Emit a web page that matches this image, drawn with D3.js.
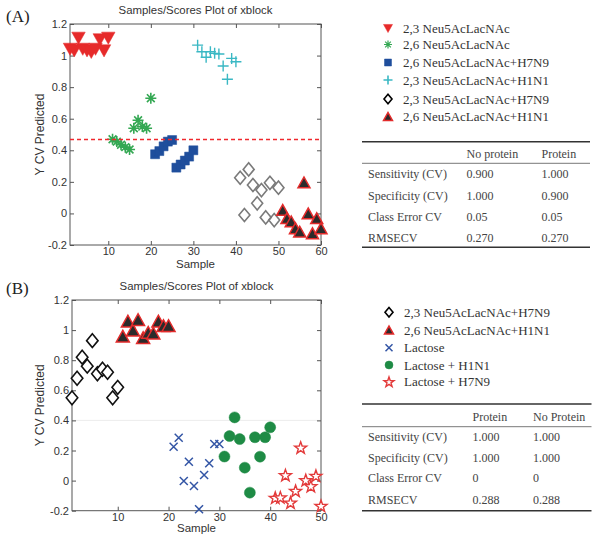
<!DOCTYPE html>
<html>
<head>
<meta charset="utf-8">
<script src="https://cdn.jsdelivr.net/npm/d3@7"></script>
<style>
  html, body { margin: 0; padding: 0; background: #fff; }
  svg { display: block; }
</style>
</head>
<body>
<svg id="fig" width="601" height="541"></svg>
<script>
// ---------------- DATA ----------------
// Panel A
const aSamples23 = [1, 2, 3, 4, 5, 6, 7, 8, 9, 10];
const aValues23 = [1.04, 1.03, 1.11, 1.04, 1.03, 1.02, 1.04, 1.10, 1.03, 1.11];
const aSamples26 = [11, 12, 13, 14, 15, 16, 17, 18, 19, 20];
const aValues26 = [0.47, 0.455, 0.435, 0.42, 0.405, 0.54, 0.59, 0.55, 0.54, 0.73];
const aSamples26H7 = [21, 22, 23, 24, 25, 26, 27, 28, 29, 30];
const aValues26H7 = [0.375, 0.395, 0.425, 0.455, 0.465, 0.29, 0.31, 0.335, 0.36, 0.40];
const aSamples23H1 = [31, 32, 33, 34, 35, 36, 37, 38, 39, 40];
const aValues23H1 = [1.066, 1.024, 0.989, 1.024, 1.014, 1.01, 0.934, 0.85, 0.982, 0.961];
const aSamples23H7 = [41, 42, 43, 44, 45, 46, 47, 48, 49, 50];
const aValues23H7 = [0.226, -0.01, 0.279, 0.18, 0.064, 0.148, -0.025, 0.194, -0.042, 0.163];
const aSamples26H1 = [51, 52, 53, 54, 55, 56, 57, 58, 59, 60];
const aValues26H1 = [0.022, -0.03, -0.05, -0.094, -0.115, 0.197, 0.0, -0.126, -0.03, -0.094];
const aThreshold = 0.469;

// Panel B
const bSamples23H7 = [1, 2, 3, 4, 5, 6, 7, 8, 9, 10];
const bValues23H7 = [0.55, 0.68, 0.82, 0.76, 0.93, 0.71, 0.74, 0.72, 0.55, 0.62];
const bSamples26H1 = [11, 12, 13, 14, 15, 16, 17, 18, 19, 20];
const bValues26H1 = [0.96, 1.06, 1.0, 1.07, 0.95, 0.985, 0.98, 1.06, 1.03, 1.03];
const bSamplesLac = [21, 22, 23, 24, 25, 26, 27, 28, 29, 30];
const bValuesLac = [0.225, 0.285, -0.003, 0.125, -0.036, -0.19, 0.037, 0.115, 0.243, 0.243];
const bSamplesLacH1 = [31, 32, 33, 34, 35, 36, 37, 38, 39, 40];
const bValuesLacH1 = [0.16, 0.296, 0.42, 0.276, 0.086, -0.08, 0.288, 0.159, 0.288, 0.354];
const bSamplesLacH7 = [41, 42, 43, 44, 45, 46, 47, 48, 49, 50];
const bValuesLacH7 = [-0.113, -0.111, 0.037, -0.145, -0.067, 0.22, 0.004, -0.036, 0.033, -0.167];

// Tick labels
const yTicks = [-0.2, 0, 0.2, 0.4, 0.6, 0.8, 1, 1.2];
const aXTicks = [10, 20, 30, 40, 50, 60];
const bXTicks = [10, 20, 30, 40, 50];
const aXDomain = [1, 60];
const bXDomain = [1, 50];
const yDomain = [-0.2, 1.2];

// Texts
const plotTitle = "Samples/Scores Plot of xblock";
const yLabel = "Y CV Predicted";
const xLabel = "Sample";
const aLegendLabels = ["2,3 Neu5AcLacNAc", "2,6 Neu5AcLacNAc", "2,6 Neu5AcLacNAc+H7N9",
  "2,3 Neu5AcLacNAc+H1N1", "2,3 Neu5AcLacNAc+H7N9", "2,6 Neu5AcLacNAc+H1N1"];
const bLegendLabels = ["2,3 Neu5AcLacNAc+H7N9", "2,6 Neu5AcLacNAc+H1N1", "Lactose",
  "Lactose + H1N1", "Lactose + H7N9"];
const aTableHeader = ["", "No protein", "Protein"];
const aTableRows = [
  ["Sensitivity (CV)", "0.900", "1.000"],
  ["Specificity (CV)", "1.000", "0.900"],
  ["Class Error CV", "0.05", "0.05"],
  ["RMSECV", "0.270", "0.270"]];
const bTableHeader = ["", "Protein", "No Protein"];
const bTableRows = [
  ["Sensitivity (CV)", "1.000", "1.000"],
  ["Specificity (CV)", "1.000", "1.000"],
  ["Class Error CV", "0", "0"],
  ["RMSECV", "0.288", "0.288"]];

// ---------------- STYLES ----------------
const SANS = "'Liberation Sans', Arial, Helvetica, sans-serif";
const SERIF = "'Liberation Serif', 'Times New Roman', serif";
const AXC = "#555";
const TXT = "#333";

const styles = {
  triDownRed: { shape: "triDown", size: 13.5, fill: "#e62a2a", stroke: "#e62a2a", sw: 0.5 },
  asteriskGreen: { shape: "asterisk", size: 11, fill: "none", stroke: "#34a853", sw: 1.6 },
  squareBlue: { shape: "square", size: 9, fill: "#1f4e9c", stroke: "#1f4e9c", sw: 0.5 },
  plusCyan: { shape: "plus", size: 11, fill: "none", stroke: "#3ab8c4", sw: 1.4 },
  diamondGray: { shape: "diamond", size: 11, fill: "none", stroke: "#7a7a7a", sw: 1.6 },
  triUpBlackRed: { shape: "triUp", size: 12, fill: "#2b2b2b", stroke: "#e32b2b", sw: 1.5 },
  diamondBlack: { shape: "diamond", size: 11.5, fill: "#fff", stroke: "#111", sw: 1.6 },
  triUpBlackRedB: { shape: "triUp", size: 13, fill: "#2b2b2b", stroke: "#e32b2b", sw: 1.5 },
  xBlue: { shape: "x", size: 8, fill: "none", stroke: "#3355a5", sw: 1.5 },
  circleGreen: { shape: "circle", size: 11, fill: "#1e8b45", stroke: "#1e8b45", sw: 0.5 },
  starRed: { shape: "star", size: 12, fill: "#fff", stroke: "#e33a3a", sw: 1.4 }
};

function markerPath(shape, s) {
  const h = s / 2;
  switch (shape) {
    case "triDown": { const hh = s * 0.45; return `M${-h},${-hh}L${h},${-hh}L0,${hh}Z`; }
    case "triUp": { const hh = s * 0.45; return `M${-h},${hh}L${h},${hh}L0,${-hh}Z`; }
    case "square": return `M${-h},${-h}L${h},${-h}L${h},${h}L${-h},${h}Z`;
    case "diamond": { const hv = s * 0.6; return `M0,${-hv}L${h},0L0,${hv}L${-h},0Z`; }
    case "plus": return `M${-h},0L${h},0M0,${-h}L0,${h}`;
    case "x": return `M${-h},${-h}L${h},${h}M${-h},${h}L${h},${-h}`;
    case "asterisk": {
      const d = h * 0.7071;
      return `M${-h},0L${h},0M0,${-h}L0,${h}M${-d},${-d}L${d},${d}M${-d},${d}L${d},${-d}`;
    }
    case "circle": return `M${h},0A${h},${h} 0 1,1 ${-h},0A${h},${h} 0 1,1 ${h},0Z`;
    case "star": {
      const R = h * 1.05, r = R * 0.4;
      const pts = [];
      for (let i = 0; i < 10; i++) {
        const ang = -Math.PI / 2 + i * Math.PI / 5;
        const rad = i % 2 === 0 ? R : r;
        pts.push([rad * Math.cos(ang), rad * Math.sin(ang) + R * 0.1]);
      }
      return "M" + pts.map(p => p[0].toFixed(2) + "," + p[1].toFixed(2)).join("L") + "Z";
    }
  }
  return "";
}

const svg = d3.select("#fig");

function drawMarkers(g, xs, ys, x, y, st) {
  const data = xs.map((v, i) => [v, ys[i]]);
  g.selectAll(null).data(data).enter().append("path")
    .attr("transform", d => `translate(${x(d[0])},${y(d[1])})`)
    .attr("d", markerPath(st.shape, st.size))
    .attr("fill", st.fill)
    .attr("stroke", st.stroke)
    .attr("stroke-width", st.sw)
    .attr("stroke-linejoin", "miter");
}

function drawPanel(opts) {
  const { left, right, top, bottom, xDomain, xTicks, letter, letterY, titleY, xLabelY } = opts;
  const x = d3.scaleLinear().domain(xDomain).range([left, right]);
  const y = d3.scaleLinear().domain(yDomain).range([bottom, top]);
  const g = svg.append("g");

  if (opts.grid) {
    g.append("line").attr("x1", left).attr("x2", right)
      .attr("y1", y(0.4)).attr("y2", y(0.4))
      .attr("stroke", "#ececec").attr("stroke-width", 1);
  }

  const fmt = d => String(d);
  const ax = (axis) => axis.tickSizeOuter(0);
  const gb = g.append("g").attr("transform", `translate(0,${bottom})`)
    .call(ax(d3.axisBottom(x).tickValues(xTicks).tickSizeInner(-4).tickPadding(2).tickFormat(fmt)));
  const gt = g.append("g").attr("transform", `translate(0,${top})`)
    .call(ax(d3.axisTop(x).tickValues(xTicks).tickSizeInner(-4).tickFormat("")));
  const gl = g.append("g").attr("transform", `translate(${left},0)`)
    .call(ax(d3.axisLeft(y).tickValues(yTicks).tickSizeInner(-4).tickPadding(3).tickFormat(fmt)));
  const gr = g.append("g").attr("transform", `translate(${right},0)`)
    .call(ax(d3.axisRight(y).tickValues(yTicks).tickSizeInner(-4).tickFormat("")));
  [gb, gt, gl, gr].forEach(a => {
    a.select(".domain").remove();
    a.selectAll("line").attr("stroke", AXC);
    a.selectAll("text").attr("fill", TXT).style("font-family", SANS).style("font-size", "11px");
  });

  g.append("rect").attr("x", left).attr("y", top)
    .attr("width", right - left).attr("height", bottom - top)
    .attr("fill", "none").attr("stroke", AXC).attr("stroke-width", 1);

  const cx = (left + right) / 2;
  g.append("text").attr("x", cx).attr("y", titleY).attr("text-anchor", "middle")
    .attr("fill", TXT).style("font-family", SANS).style("font-size", "11.4px").text(plotTitle);
  g.append("text").attr("x", cx).attr("y", xLabelY).attr("text-anchor", "middle")
    .attr("fill", TXT).style("font-family", SANS).style("font-size", "11.5px").text(xLabel);
  g.append("text").attr("transform", `translate(44,${(top + bottom) / 2}) rotate(-90)`)
    .attr("text-anchor", "middle")
    .attr("fill", TXT).style("font-family", SANS).style("font-size", "12px").text(yLabel);
  g.append("text").attr("x", 6).attr("y", letterY)
    .attr("fill", "#222").style("font-family", SERIF).style("font-size", "17px").text(letter);

  return { g, x, y };
}

function drawLegend(x0, rows, labels, stylesList) {
  const g = svg.append("g");
  labels.forEach((lab, i) => {
    const st = stylesList[i];
    g.append("path").attr("transform", `translate(${x0},${rows[i]})`)
      .attr("d", markerPath(st.shape, st.legendSize || 8))
      .attr("fill", st.fill).attr("stroke", st.stroke).attr("stroke-width", st.sw);
    g.append("text").attr("x", x0 + 15).attr("y", rows[i] + 4.5)
      .attr("fill", TXT).style("font-family", SERIF).style("font-size", "13px").text(lab);
  });
}

function drawTable(o) {
  const g = svg.append("g");
  const { x1, x2, topRule, headRule, bottomRule, headY, rowYs, cols, header, rows } = o;
  g.append("line").attr("x1", x1).attr("x2", x2).attr("y1", topRule).attr("y2", topRule)
    .attr("stroke", "#333").attr("stroke-width", 1.4);
  g.append("line").attr("x1", x1).attr("x2", x2).attr("y1", headRule).attr("y2", headRule)
    .attr("stroke", "#555").attr("stroke-width", 0.8);
  g.append("line").attr("x1", x1).attr("x2", x2).attr("y1", bottomRule).attr("y2", bottomRule)
    .attr("stroke", "#333").attr("stroke-width", 1.4);
  const txt = (xx, yy, t) => g.append("text").attr("x", xx).attr("y", yy + 4)
    .attr("fill", "#444").style("font-family", SERIF).style("font-size", "12px").text(t);
  header.forEach((h, j) => { if (h) txt(cols[j], headY, h); });
  rows.forEach((r, i) => r.forEach((c, j) => txt(cols[j], rowYs[i], c)));
}

// ---------------- PANEL A ----------------
const A = drawPanel({ left: 70, right: 321, top: 24, bottom: 245, xDomain: aXDomain, xTicks: aXTicks,
  letter: "(A)", letterY: 22, titleY: 14, xLabelY: 268 });
drawMarkers(A.g, aSamples23, aValues23, A.x, A.y, styles.triDownRed);
drawMarkers(A.g, aSamples26, aValues26, A.x, A.y, styles.asteriskGreen);
drawMarkers(A.g, aSamples26H7, aValues26H7, A.x, A.y, styles.squareBlue);
drawMarkers(A.g, aSamples23H1, aValues23H1, A.x, A.y, styles.plusCyan);
drawMarkers(A.g, aSamples23H7, aValues23H7, A.x, A.y, styles.diamondGray);
drawMarkers(A.g, aSamples26H1, aValues26H1, A.x, A.y, styles.triUpBlackRed);
A.g.append("line").attr("x1", A.x(aXDomain[0])).attr("x2", A.x(aXDomain[1]))
  .attr("y1", A.y(aThreshold)).attr("y2", A.y(aThreshold))
  .attr("stroke", "#f0282d").attr("stroke-width", 1.5).attr("stroke-dasharray", "4,3");

drawLegend(388, [28.5, 44.5, 62.5, 80, 99, 116.5], aLegendLabels, [
  Object.assign({}, styles.triDownRed, { legendSize: 9 }),
  Object.assign({}, styles.asteriskGreen, { legendSize: 8, sw: 1.2 }),
  Object.assign({}, styles.squareBlue, { legendSize: 7 }),
  Object.assign({}, styles.plusCyan, { legendSize: 9, sw: 1.6 }),
  Object.assign({}, styles.diamondBlack, { legendSize: 8, stroke: "#000" }),
  Object.assign({}, styles.triUpBlackRed, { legendSize: 9 })
]);

drawTable({ x1: 362, x2: 590, topRule: 141.7, headRule: 163.3, bottomRule: 247.3,
  headY: 154, rowYs: [174.3, 195.5, 217, 238.3], cols: [368, 466.5, 541.5],
  header: aTableHeader, rows: aTableRows });

// ---------------- PANEL B ----------------
const B = drawPanel({ left: 72, right: 321, top: 300, bottom: 510.7, xDomain: bXDomain, xTicks: bXTicks,
  letter: "(B)", letterY: 294, titleY: 290, xLabelY: 532, grid: true });
drawMarkers(B.g, bSamples23H7, bValues23H7, B.x, B.y, styles.diamondBlack);
drawMarkers(B.g, bSamples26H1, bValues26H1, B.x, B.y, styles.triUpBlackRedB);
drawMarkers(B.g, bSamplesLac, bValuesLac, B.x, B.y, styles.xBlue);
drawMarkers(B.g, bSamplesLacH1, bValuesLacH1, B.x, B.y, styles.circleGreen);
drawMarkers(B.g, bSamplesLacH7, bValuesLacH7, B.x, B.y, styles.starRed);

drawLegend(389, [312.3, 330, 347.7, 365, 381.7], bLegendLabels, [
  Object.assign({}, styles.diamondBlack, { legendSize: 8, stroke: "#000" }),
  Object.assign({}, styles.triUpBlackRedB, { legendSize: 9 }),
  Object.assign({}, styles.xBlue, { legendSize: 7 }),
  Object.assign({}, styles.circleGreen, { legendSize: 8 }),
  Object.assign({}, styles.starRed, { legendSize: 10 })
]);

drawTable({ x1: 362, x2: 591.5, topRule: 404, headRule: 426.7, bottomRule: 510.7,
  headY: 416.7, rowYs: [437.3, 457.7, 478.3, 500], cols: [368, 472.5, 533],
  header: bTableHeader, rows: bTableRows });
</script>
</body>
</html>
